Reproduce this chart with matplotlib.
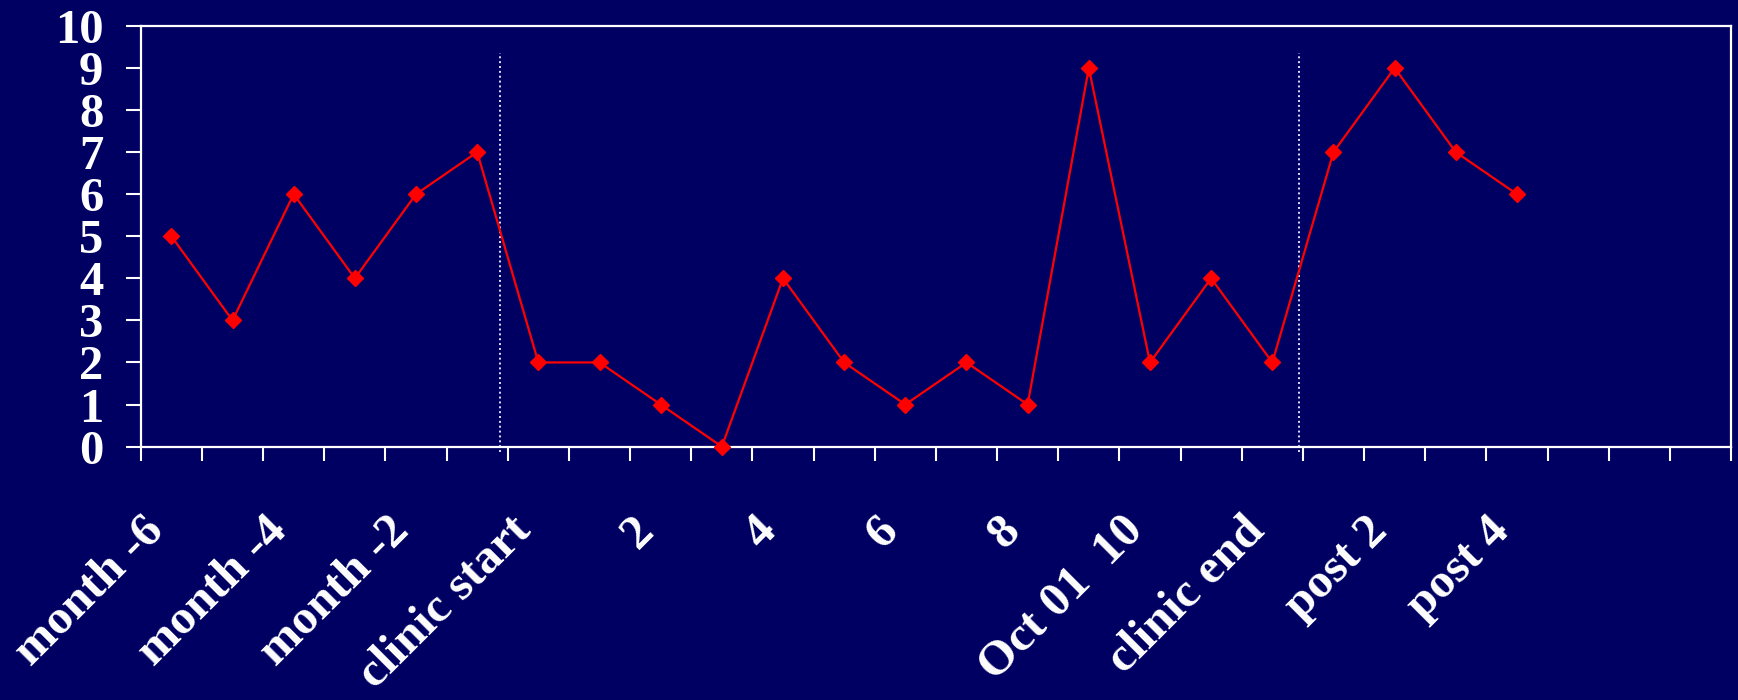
import numpy as np
import matplotlib.pyplot as plt
import matplotlib.transforms as mtransforms

# monthly counts, 6 months before the clinic, during it, and after
months = ['month -6', '', 'month -4', '', 'month -2', '', 'clinic start', '',
          '2', '', '4', '', '6', '', '8', '', 'Oct 01  10', '', 'clinic end', '',
          'post 2', '', 'post 4', '', '', '']
counts = [5, 3, 6, 4, 6, 7, 2, 2, 1, 0, 4, 2, 1, 2, 1, 9, 2, 4, 2, 7, 9, 7, 6]

# period markers (clinic start / clinic end), in category units
clinic_lines = [5.38, 18.44]

bg = '#000063'
plt.rcParams['font.family'] = ['Liberation Serif', 'DejaVu Serif']
plt.rcParams['font.weight'] = 'bold'

fig = plt.figure(figsize=(17.38, 7), dpi=100, facecolor=bg)
ax = fig.add_axes([0.081, 0.362, 0.915, 0.601])
ax.set_facecolor(bg)

x = np.arange(len(counts))
ax.plot(x, counts, color='#ff0000', lw=1.6, marker='D', markersize=8.5,
        markeredgecolor='#ff0000', clip_on=False, zorder=3)

for xv in clinic_lines:
    ax.plot([xv, xv], [-0.12, 9.36], color='#e0e0ff', lw=1.4,
            linestyle=(0, (1, 1.5)), clip_on=False, zorder=2)

ax.set_xlim(-0.5, len(months) - 0.5)
ax.set_ylim(0, 10)
ax.set_yticks(range(0, 11))
ax.set_yticklabels([str(v) for v in range(0, 11)], fontsize=35, color='white')

# ticks on the category boundaries, labels on the category centres
ax.set_xticks(np.arange(len(months) + 1) - 0.5)
ax.set_xticklabels([])
ax.set_xticks(np.arange(len(months)), minor=True)
ax.set_xticklabels(months, minor=True, fontsize=35.5, color='white',
                   rotation=45, ha='right', rotation_mode='anchor', va='center')
ax.tick_params(axis='x', which='minor', length=0, pad=60)
ax.tick_params(axis='x', which='major', length=10, width=1.5, color='white')
ax.tick_params(axis='y', length=11, width=1.5, color='white', pad=16)

shift = mtransforms.ScaledTranslation(-0.14, 0.06, fig.dpi_scale_trans)
for lab in ax.get_xticklabels(minor=True):
    lab.set_transform(lab.get_transform() + shift)

for s in ax.spines.values():
    s.set_color('white')
    s.set_linewidth(1.6)

fig.savefig('out.png', dpi=100, facecolor=bg)
